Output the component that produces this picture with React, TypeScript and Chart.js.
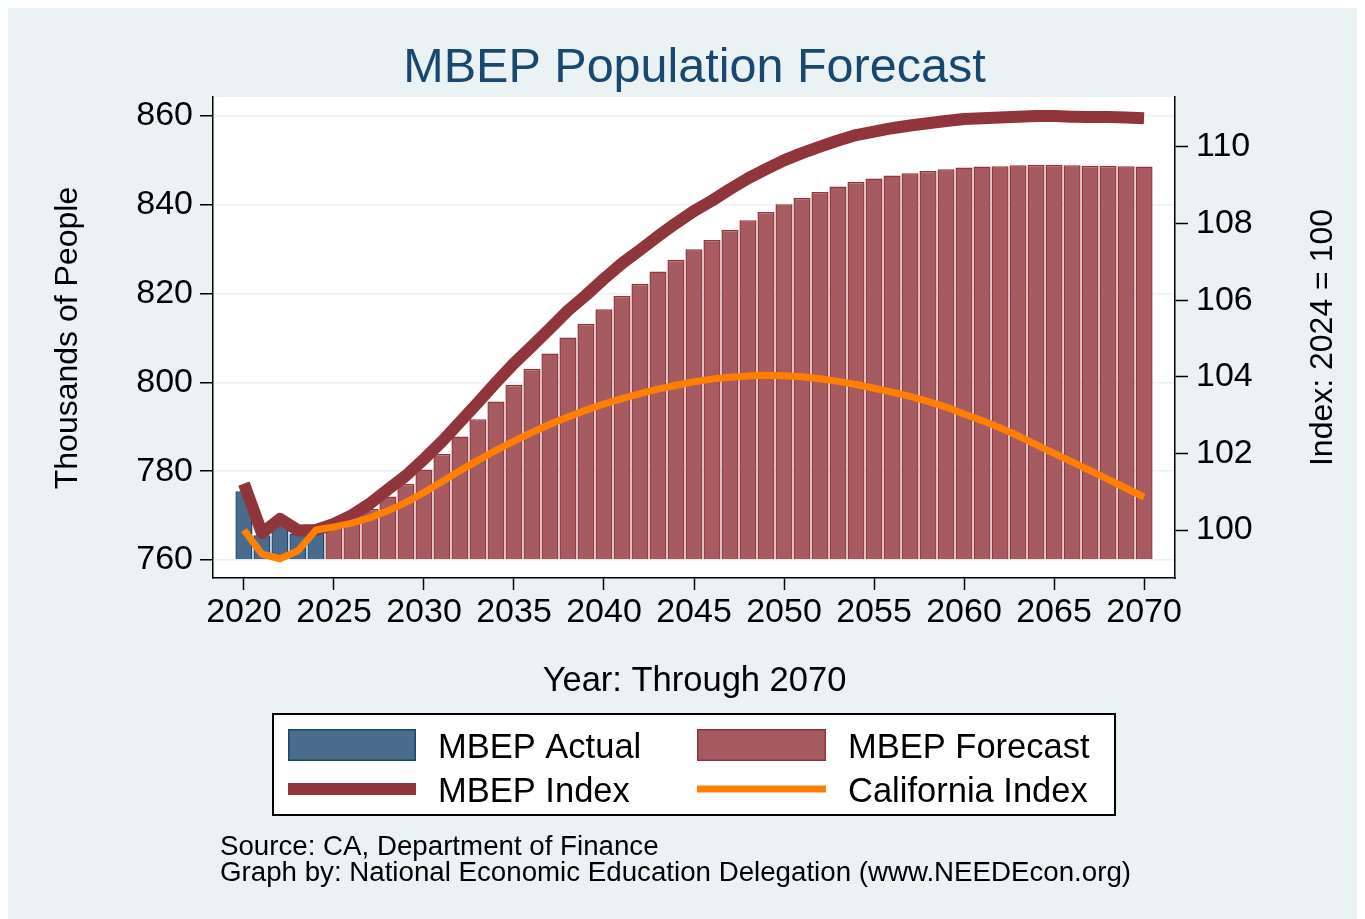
import React, { useEffect, useRef } from "react";
import { Chart, registerables } from "chart.js";

Chart.register(...registerables);

const FONT = '"Liberation Sans", Arial, Helvetica, sans-serif';

const actualYears = [2020, 2021, 2022, 2023, 2024];
const actualPop = [775.5, 765.6, 768.4, 766.0, 766.2];

const forecastYears = [
  2025, 2026, 2027, 2028, 2029, 2030, 2031, 2032, 2033, 2034,
  2035, 2036, 2037, 2038, 2039, 2040, 2041, 2042, 2043, 2044,
  2045, 2046, 2047, 2048, 2049, 2050, 2051, 2052, 2053, 2054,
  2055, 2056, 2057, 2058, 2059, 2060, 2061, 2062, 2063, 2064,
  2065, 2066, 2067, 2068, 2069, 2070,
];
const forecastPop = [
  767.4, 769.2, 771.5, 774.3, 777.1, 780.4, 783.9, 787.8, 791.7, 795.7,
  799.5, 803.0, 806.5, 810.1, 813.2, 816.5, 819.5, 822.2, 825.0, 827.6,
  830.0, 832.1, 834.4, 836.5, 838.4, 840.1, 841.6, 842.9, 844.1, 845.2,
  845.9, 846.6, 847.1, 847.6, 848.0, 848.4, 848.6, 848.7, 848.9, 849.0,
  849.0, 848.9, 848.8, 848.8, 848.7, 848.6,
];

const indexYears = [
  2020, 2021, 2022, 2023, 2024,
  2025, 2026, 2027, 2028, 2029, 2030, 2031, 2032, 2033, 2034,
  2035, 2036, 2037, 2038, 2039, 2040, 2041, 2042, 2043, 2044,
  2045, 2046, 2047, 2048, 2049, 2050, 2051, 2052, 2053, 2054,
  2055, 2056, 2057, 2058, 2059, 2060, 2061, 2062, 2063, 2064,
  2065, 2066, 2067, 2068, 2069, 2070,
];
const mbepIndex = [
  101.21, 99.92, 100.29, 99.99, 100.0,
  100.16, 100.39, 100.69, 101.06, 101.42, 101.85, 102.31, 102.82, 103.33, 103.85,
  104.35, 104.8, 105.26, 105.73, 106.13, 106.56, 106.96, 107.31, 107.67, 108.01,
  108.33, 108.6, 108.9, 109.18, 109.42, 109.65, 109.84, 110.01, 110.17, 110.31,
  110.4, 110.49, 110.56, 110.62, 110.68, 110.73, 110.75, 110.77, 110.79, 110.81,
  110.81, 110.79, 110.78, 110.78, 110.77, 110.75,
];
const caIndex = [
  100.0, 99.37, 99.25, 99.46, 100.0,
  100.08, 100.18, 100.32, 100.5, 100.72, 100.98, 101.26, 101.55, 101.82, 102.08,
  102.32, 102.55, 102.76, 102.95, 103.13, 103.29, 103.43, 103.56, 103.68, 103.78,
  103.87, 103.94, 103.99, 104.02, 104.04, 104.03, 104.0, 103.95, 103.88, 103.8,
  103.7, 103.6, 103.49, 103.36, 103.21, 103.03, 102.86, 102.67, 102.46, 102.23,
  102.0, 101.78, 101.55, 101.32, 101.09, 100.86,
];

const xTicks = [2020, 2025, 2030, 2035, 2040, 2045, 2050, 2055, 2060, 2065, 2070];
const leftTicks = [760, 780, 800, 820, 840, 860];
const rightTicks = [100, 102, 104, 106, 108, 110];

const TITLE = "MBEP Population Forecast";
const X_TITLE = "Year: Through 2070";
const Y_TITLE = "Thousands of People";
const Y1_TITLE = "Index: 2024 = 100";
const LEGEND_LABELS = ["MBEP Actual", "MBEP Forecast", "MBEP Index", "California Index"];
const NOTES = [
  "Source: CA, Department of Finance",
  "Graph by: National Economic Education Delegation (www.NEEDEcon.org)",
];

const BG = "#eaf2f3";
const NAVY = "#1a476f";
const BLUE_FILL = "#4a6b8b";
const RED_FILL = "#a55b60";
const MAROON = "#90353b";
const ORANGE = "#ff8000";

const decorPlugin = {
  id: "decor",
  beforeDraw(chart: any) {
    const { ctx, chartArea: a } = chart;
    ctx.save();
    ctx.fillStyle = "#ffffff";
    ctx.fillRect(a.left, a.top, a.right - a.left, a.bottom - a.top);
    ctx.restore();
  },
  afterDraw(chart: any) {
    const ctx = chart.ctx as CanvasRenderingContext2D;
    ctx.save();
    // Title
    ctx.fillStyle = NAVY;
    ctx.font = `48.5px ${FONT}`;
    ctx.textAlign = "center";
    ctx.textBaseline = "alphabetic";
    ctx.fillText(TITLE, 686.5, 74);

    // Axis titles
    ctx.fillStyle = "#000";
    ctx.font = `34.5px ${FONT}`;
    ctx.fillText(X_TITLE, 686.5, 683);

    ctx.font = `32px ${FONT}`;
    ctx.save();
    ctx.translate(69, 330);
    ctx.rotate(-Math.PI / 2);
    ctx.fillText(Y_TITLE, 0, 0);
    ctx.restore();

    ctx.save();
    ctx.translate(1324, 329.5);
    ctx.rotate(-Math.PI / 2);
    ctx.fillText(Y1_TITLE, 0, 0);
    ctx.restore();

    // Legend box
    ctx.fillStyle = "#ffffff";
    ctx.fillRect(265, 706, 842, 101);
    ctx.strokeStyle = "#000";
    ctx.lineWidth = 2;
    ctx.strokeRect(265, 706, 842, 101);

    // swatches
    ctx.lineWidth = 1.5;
    ctx.fillStyle = BLUE_FILL;
    ctx.strokeStyle = NAVY;
    ctx.fillRect(280, 721, 128, 32);
    ctx.strokeRect(280.75, 721.75, 126.5, 30.5);
    ctx.fillStyle = RED_FILL;
    ctx.strokeStyle = MAROON;
    ctx.fillRect(689, 721, 129, 32);
    ctx.strokeRect(689.75, 721.75, 127.5, 30.5);

    ctx.lineCap = "butt";
    ctx.strokeStyle = MAROON;
    ctx.lineWidth = 12;
    ctx.beginPath();
    ctx.moveTo(280, 781);
    ctx.lineTo(408, 781);
    ctx.stroke();
    ctx.strokeStyle = ORANGE;
    ctx.lineWidth = 7;
    ctx.beginPath();
    ctx.moveTo(689, 781);
    ctx.lineTo(818, 781);
    ctx.stroke();

    ctx.fillStyle = "#000";
    ctx.font = `34.5px ${FONT}`;
    ctx.textAlign = "left";
    ctx.fillText(LEGEND_LABELS[0], 430, 750);
    ctx.fillText(LEGEND_LABELS[1], 840, 750);
    ctx.fillText(LEGEND_LABELS[2], 430, 794);
    ctx.fillText(LEGEND_LABELS[3], 840, 794);

    // Notes
    ctx.font = `27.7px ${FONT}`;
    ctx.fillText(NOTES[0], 212, 847);
    ctx.fillText(NOTES[1], 212, 873);
    ctx.restore();
  },
};

const tickFont = { family: FONT, size: 34 };

export default function App() {
  const ref = useRef<HTMLCanvasElement | null>(null);

  useEffect(() => {
    if (!ref.current) return;
    const chart = new Chart(ref.current, {
      type: "bar",
      data: {
        datasets: [
          {
            type: "line",
            label: LEGEND_LABELS[3],
            data: indexYears.map((x, i) => ({ x, y: caIndex[i] })),
            yAxisID: "y1",
            xAxisID: "x",
            borderColor: ORANGE,
            backgroundColor: ORANGE,
            borderWidth: 7,
            pointRadius: 0,
            tension: 0,
            borderJoinStyle: "round",
            borderCapStyle: "butt",
            fill: false,
            order: 0,
          } as any,
          {
            type: "line",
            label: LEGEND_LABELS[2],
            data: indexYears.map((x, i) => ({ x, y: mbepIndex[i] })),
            yAxisID: "y1",
            xAxisID: "x",
            borderColor: MAROON,
            backgroundColor: MAROON,
            borderWidth: 12,
            pointRadius: 0,
            tension: 0,
            borderJoinStyle: "round",
            borderCapStyle: "butt",
            fill: false,
            order: 1,
          } as any,
          {
            type: "bar",
            label: LEGEND_LABELS[0],
            data: actualYears.map((x, i) => ({ x, y: actualPop[i] })),
            yAxisID: "y",
            xAxisID: "x",
            backgroundColor: BLUE_FILL,
            borderColor: NAVY,
            borderWidth: 1.5,
            base: 760,
            grouped: false,
            barPercentage: 1,
            categoryPercentage: 0.95,
            order: 2,
          } as any,
          {
            type: "bar",
            label: LEGEND_LABELS[1],
            data: forecastYears.map((x, i) => ({ x, y: forecastPop[i] })),
            yAxisID: "y",
            xAxisID: "x",
            backgroundColor: RED_FILL,
            borderColor: MAROON,
            borderWidth: 1.5,
            base: 760,
            grouped: false,
            barPercentage: 1,
            categoryPercentage: 0.95,
            order: 3,
          } as any,
        ],
      },
      options: {
        responsive: false,
        animation: false,
        devicePixelRatio: 1,
        layout: { padding: { top: 89, left: 0, right: 0, bottom: 281 } },
        plugins: {
          legend: { display: false },
          title: { display: false },
          tooltip: { enabled: false },
        },
        scales: {
          x: {
            type: "linear",
            position: "bottom",
            min: 2018.28,
            max: 2071.72,
            offset: false,
            grid: {
              display: true,
              drawOnChartArea: false,
              drawTicks: true,
              tickLength: 12,
              tickColor: "#000",
              tickWidth: 1.5,
              offset: false,
            },
            border: { display: true, color: "#000", width: 1.5 },
            ticks: {
              color: "#000",
              font: tickFont,
              padding: 2,
              maxRotation: 0,
              autoSkip: false,
              callback: (v: any) => String(v),
            },
            afterBuildTicks: (s: any) => {
              s.ticks = xTicks.map((v) => ({ value: v }));
            },
            afterFit: (s: any) => {
              s.height = 60;
            },
          },
          y: {
            type: "linear",
            position: "left",
            min: 755.95,
            max: 864.28,
            grid: {
              color: BG,
              lineWidth: 1.5,
              tickLength: 13,
              tickColor: "#000",
              tickWidth: 1.5,
            },
            border: { display: true, color: "#000", width: 1.5 },
            ticks: {
              color: "#000",
              font: tickFont,
              padding: 7,
              callback: (v: any) => String(v),
            },
            afterBuildTicks: (s: any) => {
              s.ticks = leftTicks.map((v) => ({ value: v }));
            },
            afterFit: (s: any) => {
              s.width = 205;
            },
          },
          y1: {
            type: "linear",
            position: "right",
            min: 98.747,
            max: 111.305,
            grid: {
              drawOnChartArea: false,
              tickLength: 13,
              tickColor: "#000",
              tickWidth: 1.5,
            },
            border: { display: true, color: "#000", width: 1.5 },
            ticks: {
              color: "#000",
              font: tickFont,
              padding: 8,
              callback: (v: any) => String(v),
            },
            afterBuildTicks: (s: any) => {
              s.ticks = rightTicks.map((v) => ({ value: v }));
            },
            afterFit: (s: any) => {
              s.width = 182;
            },
          },
        },
      } as any,
      plugins: [decorPlugin],
    });
    return () => chart.destroy();
  }, []);

  return (
    <div
      style={{
        position: "absolute",
        left: 8,
        top: 8,
        width: 1349,
        height: 911,
        background: BG,
      }}
    >
      <canvas
        ref={ref}
        width={1349}
        height={911}
        style={{ display: "block", width: 1349, height: 911 }}
      />
    </div>
  );
}
